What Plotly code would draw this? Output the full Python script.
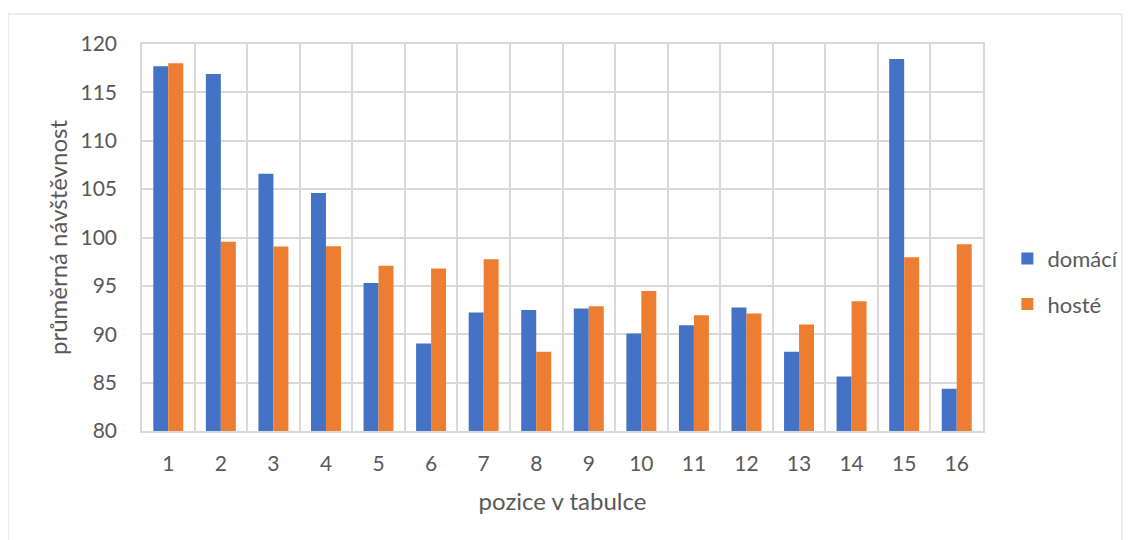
import plotly.graph_objects as go

categories = [str(i) for i in range(1, 17)]
domaci = [117.7, 116.9, 106.6, 104.6, 95.3, 89.05, 92.25, 92.5, 92.67, 90.08, 90.94, 92.77, 88.2, 85.63, 118.45, 84.36]
hoste = [118.0, 99.56, 99.08, 99.1, 97.07, 96.8, 97.76, 88.2, 92.9, 94.46, 91.97, 92.15, 91.0, 93.4, 97.97, 99.29]
y_ticks = [80, 85, 90, 95, 100, 105, 110, 115, 120]

FONT = "Lato"
TXT = "#595959"
GRID = "#d9d9d9"

fig = go.Figure()
fig.add_trace(go.Bar(x=categories, y=domaci, name="domácí", marker_color="#4472c4",
                     marker_line_width=0, legendgroup="a"))
fig.add_trace(go.Bar(x=categories, y=hoste, name="hosté", marker_color="#ed7d31",
                     marker_line_width=0, legendgroup="b"))

fig.update_layout(
    width=1132, height=540,
    margin=dict(l=134, r=157, t=36, b=117),
    paper_bgcolor="white", plot_bgcolor="white",
    barmode="group", bargap=0.43, bargroupgap=0,
    font=dict(family=FONT, color=TXT, size=20),
    showlegend=True,
    legend=dict(x=1.029, y=0.386, xanchor="left", yanchor="middle",
                font=dict(size=22, color=TXT), tracegroupgap=14,
                itemwidth=30, bgcolor="rgba(0,0,0,0)"),
    xaxis=dict(
        type="category", tickson="boundaries", showgrid=True, gridcolor=GRID, gridwidth=1.5,
        showline=True, linecolor=GRID, linewidth=1.5, mirror=True,
        ticks="", tickfont=dict(size=21, color=TXT), ticklabelstandoff=13,
        title=dict(text="pozice v tabulce", font=dict(size=24, color=TXT), standoff=19),
    ),
    yaxis=dict(
        range=[80, 120], tickvals=y_ticks, showgrid=True, gridcolor=GRID, gridwidth=1.5,
        showline=True, linecolor=GRID, linewidth=1.5, mirror=True, zeroline=False,
        ticks="", tickfont=dict(size=21, color=TXT), ticklabelstandoff=19,
        title=dict(text="průměrná návštěvnost", font=dict(size=24, color=TXT), standoff=6),
    ),
)

# outer chart frame
fig.add_shape(type="rect", xref="paper", yref="paper",
              x0=(8 - 142) / 841, x1=(1122 - 142) / 841,
              y0=(431 - 560) / 387, y1=(431 - 14) / 387,
              line=dict(color=GRID, width=1), fillcolor="rgba(0,0,0,0)", layer="below")

fig.write_html("out.html")
